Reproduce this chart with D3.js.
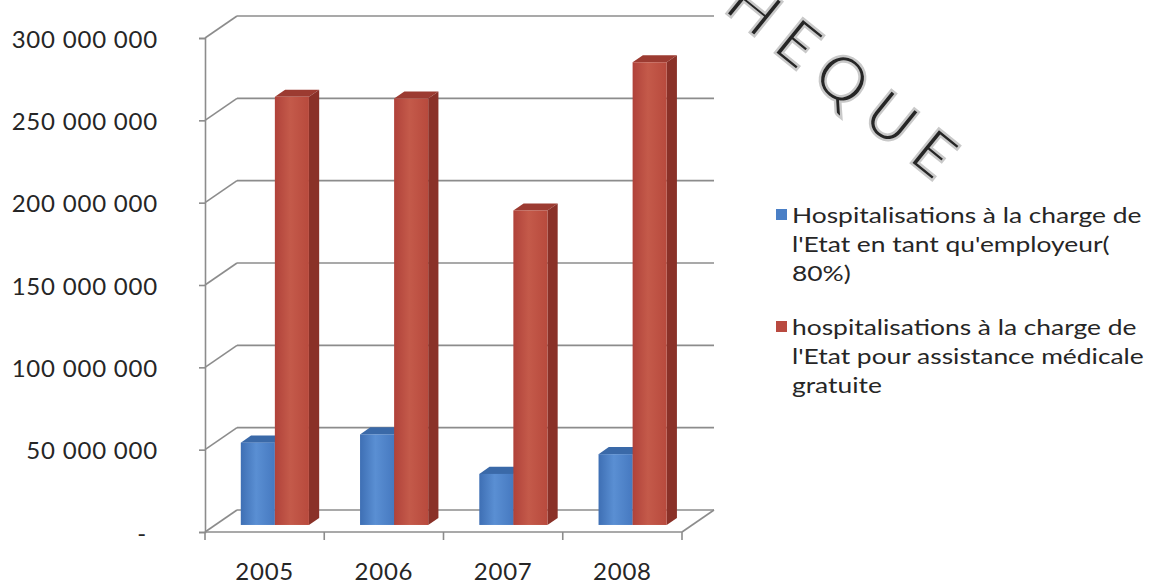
<!DOCTYPE html>
<html>
<head>
<meta charset="utf-8">
<script src="https://cdn.jsdelivr.net/npm/d3@7"></script>
<style>
  html, body { margin: 0; padding: 0; background: #ffffff; }
  svg { display: block; }
  text { font-family: Lato, "Open Sans", sans-serif; fill: #262626; }
</style>
</head>
<body>
<svg id="chart" width="1156" height="586"></svg>
<script>
// Yearly hospitalisation costs borne by the State
const years = ["2005", "2006", "2007", "2008"];
const seriesNames = [
  "Hospitalisations à la charge de l'Etat en tant qu'employeur( 80%)",
  "hospitalisations à la charge de l'Etat pour assistance médicale gratuite"
];
const employeurValues = [50000000, 55000000, 31000000, 43000000];
const assistanceValues = [260000000, 259000000, 191000000, 281000000];
const yTicks = [0, 50000000, 100000000, 150000000, 200000000, 250000000, 300000000];
const yTickLabels = ["-", "50 000 000", "100 000 000", "150 000 000", "200 000 000", "250 000 000", "300 000 000"];
const legendLines = [
  ["Hospitalisations à la charge de", "l'Etat en tant qu'employeur(", "80%)"],
  ["hospitalisations à la charge de", "l'Etat pour assistance médicale", "gratuite"]
];

const series = [
  { key: "employeur", values: employeurValues, front: ["#3e6fb4", "#5a8fd3", "#4679c0"], side: "#2c568f", top: "#3a69a8", swatch: "#4a7fc6" },
  { key: "assistance", values: assistanceValues, front: ["#b0423a", "#c45a4a", "#b84a3d"], side: "#8a3128", top: "#9c3b31", swatch: "#b94a40" }
];

const svg = d3.select("#chart");

// Oblique 3D frame: front plane + depth offset towards the back wall
const FX0 = 205, FX1 = 682, Y0 = 532;
const DX = 32, DY = 22;
const Z_FRONT = 0.32, Z_BACK = 0.64;

const y = d3.scaleLinear().domain([0, 300000000]).range([Y0, 38]);
const x0 = d3.scaleBand().domain(years).range([FX0, FX1]).padding(0);
const x1 = d3.scaleBand().domain(series.map(s => s.key))
  .range([0, x0.bandwidth()]).paddingInner(0).paddingOuter(0.75);

const proj = (x, v, z) => [x + z * DX, y(v) - z * DY];
const poly = pts => pts.map(p => p.join(",")).join(" ");

// library stamp across the top right, behind everything else
svg.append("text")
  .attr("transform", "translate(722,10) rotate(39)")
  .style("font-size", "62px").style("letter-spacing", "15px").style("font-weight", "400")
  .attr("fill", "none").attr("stroke", "#c9c9c9").attr("stroke-width", 2.4)
  .text("HEQUE");

// gradients for the bar fronts
const defs = svg.append("defs");
series.forEach(s => {
  const g = defs.append("linearGradient").attr("id", "grad-" + s.key)
    .attr("x1", "0").attr("x2", "1").attr("y1", "0").attr("y2", "0");
  g.append("stop").attr("offset", "0").attr("stop-color", s.front[0]);
  g.append("stop").attr("offset", "0.45").attr("stop-color", s.front[1]);
  g.append("stop").attr("offset", "1").attr("stop-color", s.front[2]);
});

const gridColor = "#8c8c8c";
const frame = svg.append("g").attr("stroke", gridColor).attr("stroke-width", 1.6).attr("fill", "none");

// back wall gridlines
frame.selectAll("line.back").data(yTicks).join("line").attr("class", "back")
  .attr("x1", FX0 + DX).attr("x2", FX1 + DX)
  .attr("y1", d => y(d) - DY).attr("y2", d => y(d) - DY);

// side wall gridlines
frame.selectAll("line.side").data(yTicks).join("line").attr("class", "side")
  .attr("x1", FX0).attr("y1", d => y(d))
  .attr("x2", FX0 + DX).attr("y2", d => y(d) - DY);

// floor edges
frame.append("line").attr("x1", FX0).attr("y1", Y0).attr("x2", FX1).attr("y2", Y0);
frame.append("line").attr("x1", FX1).attr("y1", Y0).attr("x2", FX1 + DX).attr("y2", Y0 - DY);

// value axis
const yAxis = d3.axisLeft(y).tickValues(yTicks).tickSize(6).tickFormat((d, i) => yTickLabels[i]);
const yAxisG = svg.append("g").attr("transform", `translate(${FX0},0)`).call(yAxis);
yAxisG.select(".domain").attr("stroke", gridColor).attr("stroke-width", 1.6);
yAxisG.selectAll(".tick line").attr("stroke", gridColor).attr("stroke-width", 1.6);
yAxisG.selectAll(".tick text")
  .attr("x", d => d === 0 ? -58 : -47)
  .attr("dy", "0.38em")
  .style("font-size", "24px").style("letter-spacing", "0.8px").attr("fill", "#262626");

// category axis
const xAxis = d3.axisBottom(x0).tickSize(0).tickSizeOuter(0);
const xAxisG = svg.append("g").attr("transform", `translate(0,${Y0})`).call(xAxis);
xAxisG.select(".domain").remove();
xAxisG.selectAll(".tick text").attr("y", 31)
  .style("font-size", "24px").style("letter-spacing", "0.8px").attr("fill", "#262626");
// category separators
const bounds = years.map(d => x0(d)).concat([FX1]);
svg.append("g").selectAll("line").data(bounds).join("line")
  .attr("x1", d => d).attr("x2", d => d).attr("y1", Y0).attr("y2", Y0 + 8)
  .attr("stroke", gridColor).attr("stroke-width", 1.6);

// bars
const bars = svg.append("g");
years.forEach((yr, i) => {
  series.forEach(s => {
    const v = s.values[i];
    const xl = x0(yr) + x1(s.key);
    const xr = xl + x1.bandwidth();
    const g = bars.append("g");
    // top face
    g.append("polygon").attr("fill", s.top)
      .attr("points", poly([proj(xl, v, Z_FRONT), proj(xr, v, Z_FRONT), proj(xr, v, Z_BACK), proj(xl, v, Z_BACK)]));
    // side face
    g.append("polygon").attr("fill", s.side)
      .attr("points", poly([proj(xr, 0, Z_FRONT), proj(xr, v, Z_FRONT), proj(xr, v, Z_BACK), proj(xr, 0, Z_BACK)]));
    // front face
    const [fx, fy] = proj(xl, v, Z_FRONT);
    const [, fb] = proj(xl, 0, Z_FRONT);
    g.append("rect").attr("x", fx).attr("y", fy)
      .attr("width", x1.bandwidth()).attr("height", fb - fy)
      .attr("fill", `url(#grad-${s.key})`);
  });
});

// legend
const legend = svg.append("g").attr("transform", "translate(776,0)");
const legendTop = [215, 327];
series.forEach((s, i) => {
  const g = legend.append("g").attr("transform", `translate(0,${legendTop[i]})`);
  g.append("rect").attr("x", 0).attr("y", -6).attr("width", 11).attr("height", 11).attr("fill", s.swatch);
  g.append("text").attr("transform", "translate(16,0) scale(1.2,1)").style("font-size", "22px")
    .selectAll("tspan").data(legendLines[i]).join("tspan")
    .attr("x", 0).attr("dy", (d, j) => j === 0 ? "0.35em" : "29px").text(d => d);
});
</script>
</body>
</html>
